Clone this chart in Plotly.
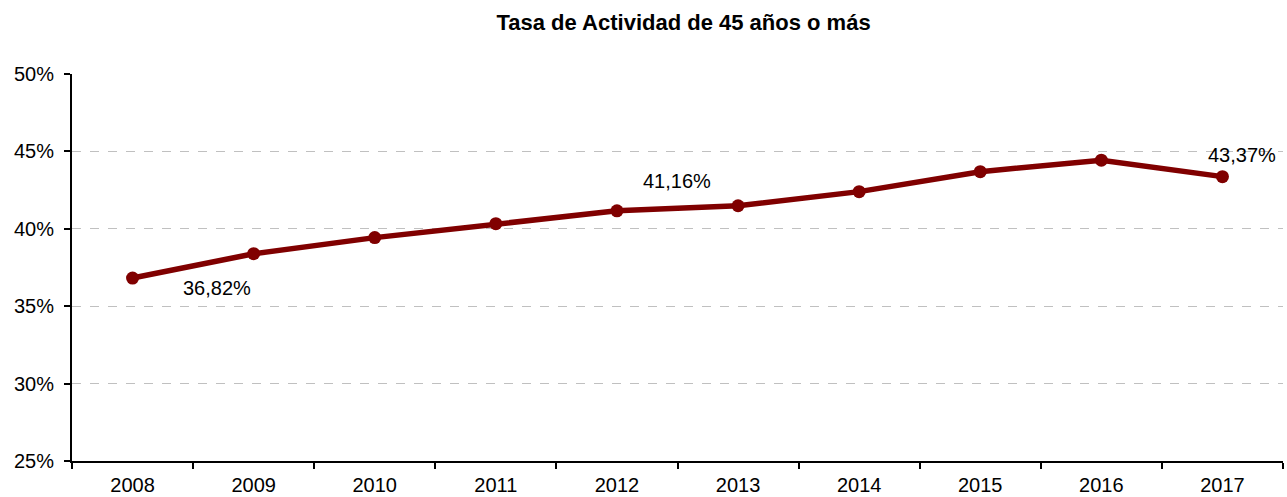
import plotly.graph_objects as go

years = ["2008", "2009", "2010", "2011", "2012", "2013", "2014", "2015", "2016", "2017"]
tasa = [36.82, 38.39, 39.43, 40.33, 41.16, 41.49, 42.40, 43.69, 44.43, 43.37]

# etiquetas solo en algunos puntos: (indice, desplazamiento x, desplazamiento y)
etiquetas = [(0, 84, -10), (4, 60, 30), (9, 20, 22)]

fig = go.Figure()
fig.add_trace(go.Scatter(
    x=years, y=tasa, mode="lines+markers",
    line=dict(color="#800000", width=5.5),
    marker=dict(color="#800000", size=13),
    hoverinfo="skip", showlegend=False,
))

for i, dx, dy in etiquetas:
    # en eje de categorias la anotacion se coloca por indice
    fig.add_annotation(
        x=i, y=tasa[i], text=f"{tasa[i]:.2f}%".replace(".", ","),
        showarrow=False, xshift=dx, yshift=dy,
        font=dict(size=20, color="black"),
    )

fig.update_layout(
    width=1287, height=497,
    margin=dict(l=72, r=4, t=74, b=36, autoexpand=False),
    plot_bgcolor="white", paper_bgcolor="white",
    font=dict(family="Liberation Sans, Arial, sans-serif", size=20, color="black"),
    title=dict(text="<b>Tasa de Actividad de 45 años o más</b>",
               x=0.505, xref="paper", y=0.955, yanchor="middle",
               font=dict(size=22), automargin=False),
)
fig.update_xaxes(
    type="category", range=[-0.5, 9.5], showline=True, linecolor="black",
    linewidth=2, ticks="outside", tickson="boundaries", ticklen=6,
    tickcolor="black", tickwidth=2, showgrid=False, fixedrange=True,
    tickangle=0, automargin=False, ticklabelstandoff=5,
)
fig.update_yaxes(
    range=[25, 50], dtick=5, ticksuffix="%", showline=True,
    linecolor="black", linewidth=2, ticks="outside", ticklen=6,
    tickcolor="black", tickwidth=2, showgrid=True, gridcolor="#c0c0c0",
    griddash="dash", gridwidth=1, zeroline=False, fixedrange=True,
    automargin=False, ticklabelstandoff=6,
)

# quitar el margen por defecto del body para que la figura ocupe toda la ventana
fig.write_html("out.html", post_script="document.body.style.margin='0';",
               config={"displayModeBar": False})
